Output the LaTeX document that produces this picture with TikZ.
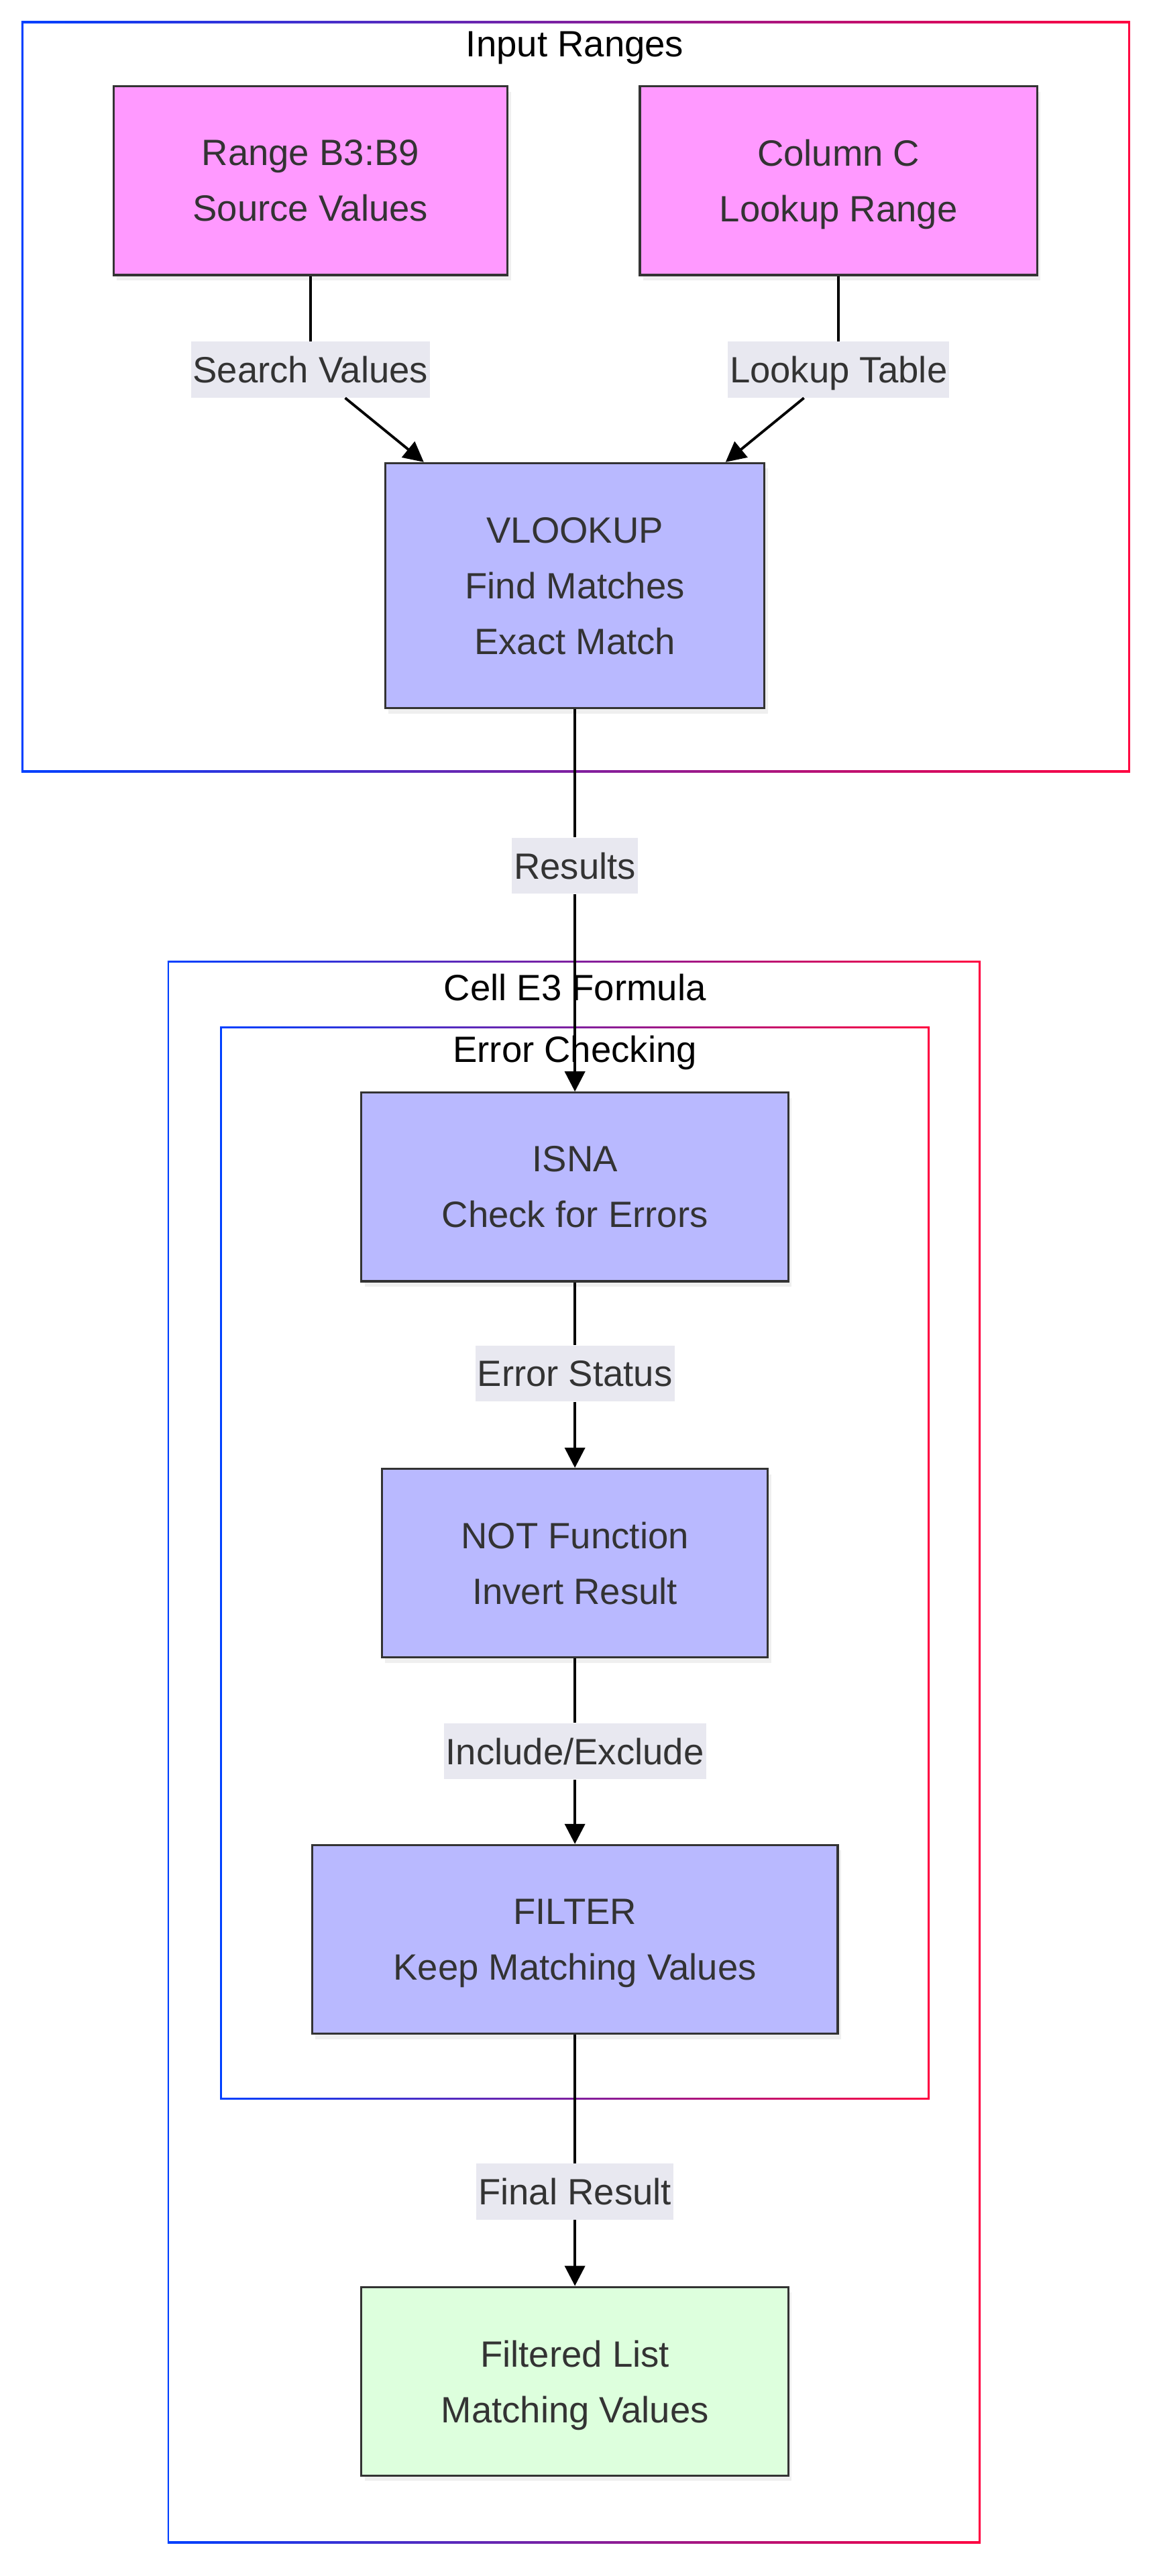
\documentclass[tikz,border=0pt]{standalone}
\usepackage{fontspec}
\setmainfont{Liberation Sans}
\usepackage{xcolor}
\usepackage{tikz}
\usetikzlibrary{arrows.meta,shadows}
\definecolor{pinkc}{HTML}{FF99FF}
\definecolor{lavc}{HTML}{B9B9FF}
\definecolor{mintc}{HTML}{DDFFDD}
\definecolor{edgec}{HTML}{333333}
\definecolor{lblbg}{HTML}{E8E8F0}
\definecolor{bluec}{HTML}{0040FF}
\definecolor{redc}{HTML}{FF0040}
\newcommand{\txtf}{\fontsize{15.5}{23.6}\selectfont}
\tikzset{
  ar/.style={-{Triangle[length=3mm,width=3mm]},line width=1.1pt,black},
  ln/.style={line width=1.1pt,black},
  box/.style={draw=edgec,line width=0.9pt,align=center,text=edgec,font=\txtf,
    minimum height=28.1mm,inner sep=0pt,text depth=0pt,
    drop shadow={shadow xshift=0.5mm,shadow yshift=-0.8mm,opacity=0.12}},
  lbl/.style={fill=lblbg,text=edgec,font=\txtf,inner xsep=0.3mm,inner ysep=0pt,
    text depth=0pt,minimum height=8.3mm},
  cl/.style={text=black,font=\txtf},
  gr/.style={left color=bluec,right color=redc}
}
\begin{document}
\begin{tikzpicture}[x=0.2447mm,y=-0.2447mm]
\useasboundingbox (0,0) rectangle (704,1568);
% clusters
\shade[gr] (13,13) rectangle (688,470);
\fill[white] (14.1,14.1) rectangle (686.9,468.9);
\shade[gr] (102,585) rectangle (597,1548);
\fill[white] (103.1,586.1) rectangle (595.9,1546.9);
\shade[gr] (134,625) rectangle (566,1278);
\fill[white] (135.1,626.1) rectangle (564.9,1276.9);
\node[cl] (tin) at (350,29) {Input Ranges};
\node[cl] (tcell) at (350,601) {Cell E3 Formula};
\node[cl] (terr) at (350,641) {Error Checking};
% nodes
\node[box,fill=pinkc,minimum width=58.7mm] (rng) at (189,110) {Range B3:B9\\Source Values};
\node[box,fill=pinkc,minimum width=59.2mm] (colc) at (510.5,110) {Column C\\Lookup Range};
\node[box,fill=lavc,minimum width=56.5mm,minimum height=36.5mm] (vlk) at (350,356.5) {VLOOKUP\\Find Matches\\Exact Match};
\node[box,fill=lavc,minimum width=63.6mm] (isna) at (350,722.5) {ISNA\\Check for Errors};
\node[box,fill=lavc,minimum width=57.5mm] (notf) at (350,951.5) {NOT Function\\Invert Result};
\node[box,fill=lavc,minimum width=78.3mm] (filt) at (350,1180.5) {FILTER\\Keep Matching Values};
\node[box,fill=mintc,minimum width=63.6mm] (flist) at (350,1449.5) {Filtered List\\Matching Values};
% edge labels
\node[lbl] (sv) at (189,225) {Search Values};
\node[lbl] (lt) at (510.5,225) {Lookup Table};
\node[lbl] (res) at (350,527) {Results};
\node[lbl] (est) at (350,836) {Error Status};
\node[lbl] (inex) at (350,1066) {Include/Exclude};
\node[lbl] (fres) at (350,1334) {Final Result};
% edges
\draw[ln] (rng) -- (sv);
\draw[ar] (sv) -- (vlk);
\draw[ln] (colc) -- (lt);
\draw[ar] (lt) -- (vlk);
\draw[ln] (vlk) -- (res);
\draw[ar] (res) -- (isna);
\draw[ln] (isna) -- (est);
\draw[ar] (est) -- (notf);
\draw[ln] (notf) -- (inex);
\draw[ar] (inex) -- (filt);
\draw[ln] (filt) -- (fres);
\draw[ar] (fres) -- (flist);
\end{tikzpicture}
\end{document}
